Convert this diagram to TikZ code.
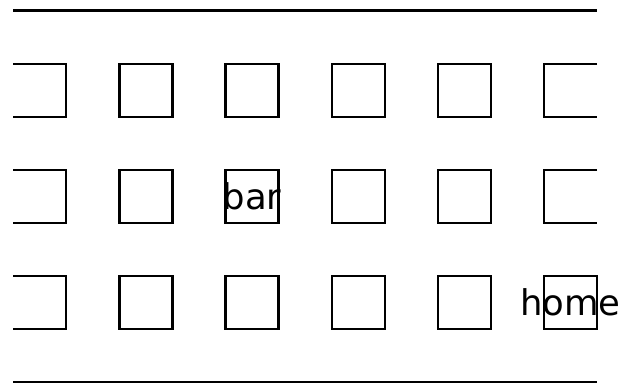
\documentclass[tikz,border=0pt]{standalone}
\usepackage{fontspec}
\newfontfamily\labelfont{DejaVu Sans}
\begin{document}
\begin{tikzpicture}[
  cell/.style={draw, line width=1.2pt, minimum size=1cm, inner sep=0pt, outer sep=0pt},
  edge/.style={line width=1.2pt},
  word/.style={font=\labelfont\fontsize{19}{23}\selectfont, inner sep=0pt}
]
\useasboundingbox (-0.25,-0.02) rectangle (11.49,7.2);
% rules
\draw[edge] (0,7) -- (11,7);
\draw[edge] (0,0) -- (11,0);
% rows of cells
\foreach \y/\r in {5.5/a,3.5/b,1.5/c}{
  \draw[edge] (0,\y+0.5) -| (1,\y-0.5) -- (0,\y-0.5);
  \foreach \x/\c in {2.5/2,4.5/3,6.5/4,8.5/5}{
    \node[cell] (\r\c) at (\x,\y) {};
  }
}
\draw[edge] (11,6) -| (10,5) -- (11,5);
\draw[edge] (11,4) -| (10,3) -- (11,3);
\node[cell] (c6) at (10.5,1.5) {};
% labels
\node[word] (bar) at (b3) {bar};
\node[word] (home) at (c6) {home};
\end{tikzpicture}
\end{document}
